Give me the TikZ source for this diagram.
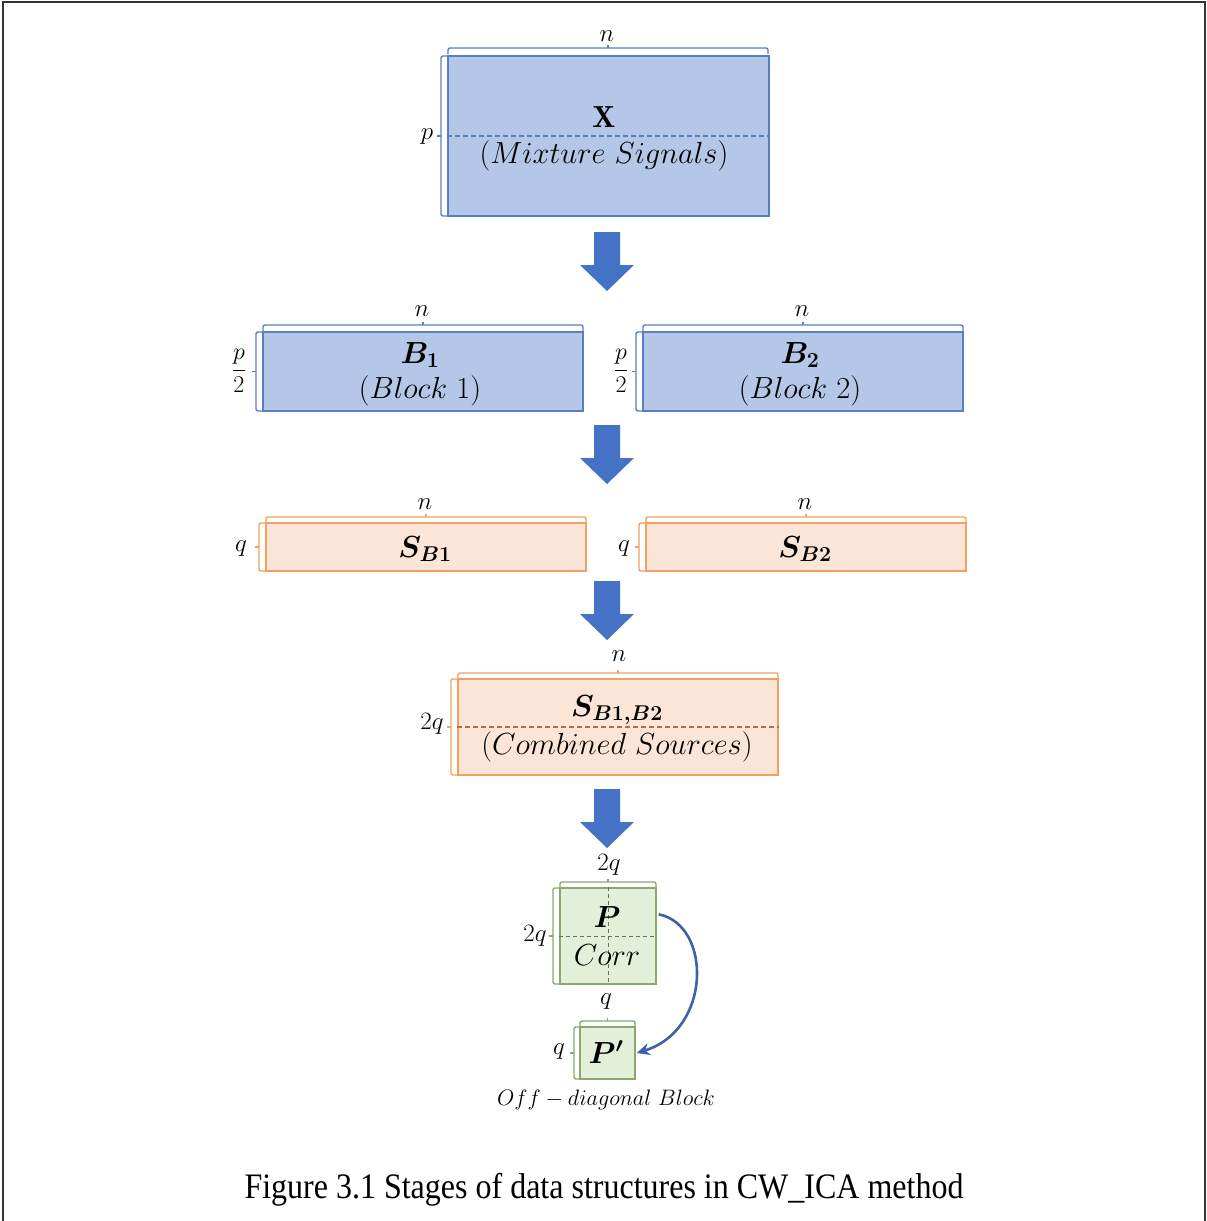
\RequirePackage{fix-cm}
\documentclass[tikz,border=0pt]{standalone}
\usepackage{fontspec}
\usepackage{amsmath}
\usepackage{bm}
\usepackage{graphicx}
\usetikzlibrary{arrows.meta}
\newfontfamily\capfont{Liberation Serif}
\definecolor{bfill}{HTML}{B4C7E7}
\definecolor{bline}{HTML}{5A7EC2}
\definecolor{ofill}{HTML}{FBE5D6}
\definecolor{oline}{HTML}{F0A060}
\definecolor{gfill}{HTML}{E2F0D9}
\definecolor{gline}{HTML}{88A870}
\definecolor{arrowblue}{HTML}{4472C4}
\definecolor{curveblue}{HTML}{3E62AA}
\newcommand\mytbrace[4]{% x1 x2 y colour
  \draw[#4,line width=1.4pt,rounded corners=2pt] (#1,#3+6) -- (#1,#3) -- (#2,#3) -- (#2,#3+6);
  \draw[#4,line width=1.2pt] ({(#1+#2)/2},#3) -- ({(#1+#2)/2},#3-3);}
\newcommand\mylbrace[4]{% x y1 y2 colour
  \draw[#4,line width=1.4pt,rounded corners=2pt] (#1+6,#2) -- (#1,#2) -- (#1,#3) -- (#1+6,#3);
  \draw[#4,line width=1.2pt] (#1,{(#2+#3)/2}) -- (#1-4,{(#2+#3)/2});}
\newcommand\myblockarrow[1]{% top y
  \fill[arrowblue] (594,#1) -- (620,#1) -- (620,#1+33) -- (634,#1+33) -- (607,#1+59) -- (580,#1+33) -- (594,#1+33) -- cycle;}
\tikzset{
  bluebox/.style={draw=bline,fill=bfill,line width=1.4pt,inner sep=0pt},
  orangebox/.style={draw=oline,fill=ofill,line width=1.4pt,inner sep=0pt},
  greenbox/.style={draw=gline,fill=gfill,line width=1.4pt,inner sep=0pt},
  bigtxt/.style={font=\fontsize{30.5}{34}\selectfont,inner sep=0pt},
  dimtxt/.style={font=\fontsize{25}{28}\selectfont,inner sep=0pt},
  fractxt/.style={font=\fontsize{24}{27}\selectfont,inner sep=0pt},
  offtxt/.style={font=\fontsize{22.3}{25}\selectfont,inner sep=0pt},
}
\begin{document}
\begin{tikzpicture}[x=1pt,y=-1pt]
\useasboundingbox (0,0) rectangle (1207,1221);
\fill[white] (0,0) rectangle (1207,1221);
% frame
\draw[black!80,line width=1.6pt] (3,1221) -- (3,2) -- (1205,2) -- (1205,1221);

% X
\node[bluebox,minimum width=321pt,minimum height=160pt] (X) at (608.5,136) {};
\draw[bline,dashed,line width=1.1pt,dash pattern=on 5pt off 3pt] (X.west) -- (X.east);
\node[bigtxt] (Xt) at (604,117) {$\mathbf{X}$};
\node[bigtxt] (Xs) at (604,156) {$(Mixture\ Signals)$};
\mytbrace{448}{768}{48}{bline}
\mylbrace{441}{56}{216}{bline}
\node[dimtxt] (Xn) at (607,36) {$n$};
\node[dimtxt] (Xp) at (427,137) {$p$};

\myblockarrow{232}

% B1, B2
\node[bluebox,minimum width=320pt,minimum height=79pt] (B1) at (423,371.5) {};
\node[bigtxt] (B1t) at (420,355) {$\bm{B_1}$};
\node[bigtxt] (B1s) at (420,391) {$(Block\ 1)$};
\mytbrace{263}{583}{325}{bline}
\mylbrace{256}{332}{411}{bline}
\node[dimtxt] (B1n) at (422,311) {$n$};
\node[fractxt] (B1p) at (239,371) {$\dfrac{p}{2}$};

\node[bluebox,minimum width=320pt,minimum height=79pt] (B2) at (803,371.5) {};
\node[bigtxt] (B2t) at (800,355) {$\bm{B_2}$};
\node[bigtxt] (B2s) at (800,391) {$(Block\ 2)$};
\mytbrace{643}{963}{325}{bline}
\mylbrace{636}{332}{411}{bline}
\node[dimtxt] (B2n) at (802,311) {$n$};
\node[fractxt] (B2p) at (621,371) {$\dfrac{p}{2}$};

\myblockarrow{425}

% SB1, SB2
\node[orangebox,minimum width=320pt,minimum height=48pt] (S1) at (426,547) {};
\node[bigtxt] (S1t) at (425,549) {$\bm{S_{B1}}$};
\mytbrace{266}{586}{517}{oline}
\mylbrace{259}{523}{571}{oline}
\node[dimtxt] (S1n) at (425,504) {$n$};
\node[dimtxt] (S1q) at (241,549) {$q$};

\node[orangebox,minimum width=320pt,minimum height=48pt] (S2) at (806,547) {};
\node[bigtxt] (S2t) at (805,549) {$\bm{S_{B2}}$};
\mytbrace{646}{966}{517}{oline}
\mylbrace{639}{523}{571}{oline}
\node[dimtxt] (S2n) at (805,504) {$n$};
\node[dimtxt] (S2q) at (624,549) {$q$};

\myblockarrow{581}

% combined
\node[orangebox,minimum width=320pt,minimum height=96pt] (C) at (618,727) {};
\draw[oline!70!black,dashed,line width=1.1pt,dash pattern=on 5pt off 3pt] (C.west) -- (C.east);
\node[bigtxt] (Ct) at (617,710) {$\bm{S_{B1,B2}}$};
\node[bigtxt] (Cs) at (617,747) {$(Combined\ Sources)$};
\mytbrace{458}{778}{673}{oline}
\mylbrace{451}{679}{775}{oline}
\node[dimtxt] (Cn) at (619,656) {$n$};
\node[dimtxt] (Cq) at (432,724) {$2q$};

\myblockarrow{789}

% P
\node[greenbox,minimum width=96pt,minimum height=96pt] (P) at (608,936) {};
\draw[gline!70!black,dashed,line width=1pt,dash pattern=on 4pt off 3pt] (P.west) -- (P.east);
\draw[gline!70!black,dashed,line width=1pt,dash pattern=on 4pt off 3pt] (P.north) -- (P.south);
\node[bigtxt] (Pt) at (607,917) {$\bm{P}$};
\node[bigtxt] (Ps) at (607,955) {$Corr$};
\mytbrace{560}{656}{882}{gline}
\mylbrace{553}{888}{984}{gline}
\node[dimtxt] (Pn) at (609,865) {$2q$};
\node[dimtxt] (Pq) at (535,936) {$2q$};

% P'
\node[greenbox,minimum width=55pt,minimum height=52pt] (Pp) at (607.5,1053) {};
\node[bigtxt] (Ppt) at (606,1052) {$\bm{P'}$};
\mytbrace{580}{635}{1021}{gline}
\mylbrace{574}{1027}{1079}{gline}
\node[dimtxt] (Ppn) at (606,1002) {$q$};
\node[dimtxt] (Ppq) at (559,1052) {$q$};
\node[offtxt] (off) at (606,1100) {$Off-diagonal\ Block$};

\draw[curveblue,line width=2.6pt,-{Stealth[length=13pt,width=12pt]}]
  ([xshift=2pt,yshift=-27pt]P.north east) .. controls (712,925) and (712,1030) .. ([xshift=1pt]Pp.east);

% caption
\node[inner sep=0pt] (cap) at (604,1190) {\scalebox{1}[1.12]{\capfont\fontsize{32}{36}\selectfont Figure 3.1 Stages of data structures in CW\_ICA method}};
\end{tikzpicture}
\end{document}
